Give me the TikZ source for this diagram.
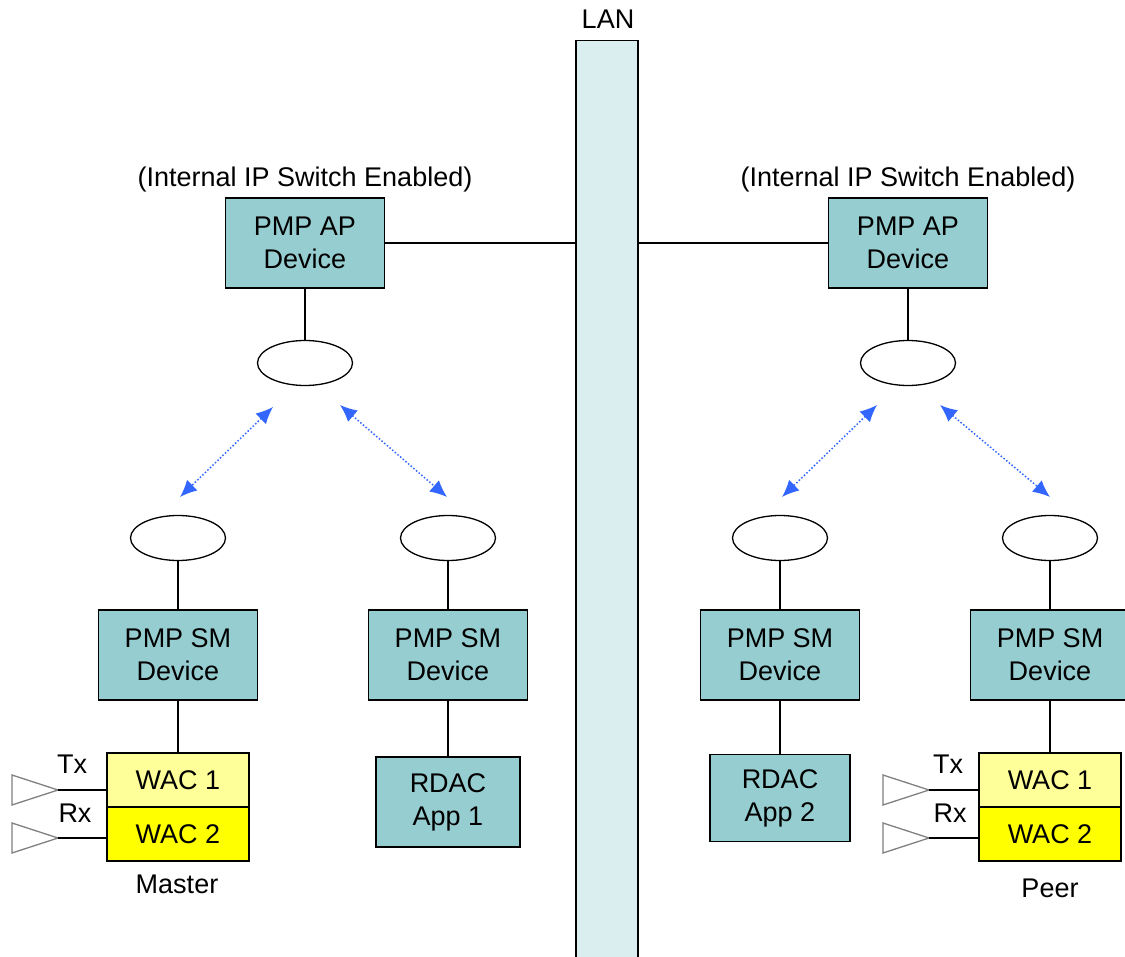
\documentclass[tikz,border=0pt]{standalone}
\usepackage{fontspec}
\setmainfont{Liberation Sans}
\usetikzlibrary{arrows.meta,shapes.geometric}
\definecolor{devteal}{HTML}{96CDD0}
\definecolor{lanblue}{HTML}{DAEEF0}
\definecolor{waclight}{HTML}{FFFF99}
\definecolor{wacyellow}{HTML}{FFFF00}
\definecolor{linkblue}{HTML}{3366FF}
\definecolor{antgray}{HTML}{808080}

\begin{document}
\begin{tikzpicture}
[x=1pt,y=-1pt,
%%%%%%%%%%%%%%%%%%%%%%%%%%%%%%
every node/.style={font=\fontsize{27}{33}\selectfont},
device/.style={rectangle,draw=black,line width=1.3pt,fill=devteal,align=center,
  minimum width=159pt,minimum height=90pt,inner sep=0pt},
rdac/.style={device,minimum width=144pt,minimum height=90pt},
wac/.style={rectangle,draw=black,line width=1.3pt,minimum width=142pt,
  minimum height=54pt,inner sep=0pt},
radio/.style={ellipse,draw=black,line width=1.3pt,fill=white,
  minimum width=95pt,minimum height=45pt,inner sep=0pt},
link/.style={draw=linkblue,line width=1.5pt,dotted,
  {Latex[length=17pt,width=15pt]}-{Latex[length=17pt,width=15pt]}},
wire/.style={draw=black,line width=1.3pt},
antenna/.style={draw=antgray,line width=1.3pt},
]%%%%%%%%%%%%%%%%%%%%%%%%%%%%%%
\useasboundingbox (0,0) rectangle (1125,957);

% LAN backbone
\node[rectangle,draw=black,line width=1.3pt,fill=lanblue,minimum width=62pt,
  minimum height=930pt,inner sep=0pt,anchor=north] (lan) at (607,40){};
\node (lanlabel) at (608,19){LAN};

% access points
\node[device] (apL) at (305,243){PMP AP\\Device};
\node[device] (apR) at (908,243){PMP AP\\Device};
\node (swL) at (305,180){(Internal IP Switch Enabled)};
\node (swR) at (908,180){(Internal IP Switch Enabled)};
\draw[wire] (apL.east) -- (apL.east -| lan.west);
\draw[wire] (apR.west) -- (apR.west -| lan.east);

\node[radio] (radL) at (305,363){};
\node[radio] (radR) at (908,363){};
\draw[wire] (apL.south) -- (radL.north);
\draw[wire] (apR.south) -- (radR.north);

% subscriber modules
\node[radio] (radL1) at (178,538){};
\node[radio] (radL2) at (448,538){};
\node[radio] (radR1) at (780,538){};
\node[radio] (radR2) at (1050,538){};

\node[device] (smL1) at (178,655){PMP SM\\Device};
\node[device] (smL2) at (448,655){PMP SM\\Device};
\node[device] (smR1) at (780,655){PMP SM\\Device};
\node[device] (smR2) at (1050,655){PMP SM\\Device};

\foreach \r/\s in {radL1/smL1,radL2/smL2,radR1/smR1,radR2/smR2}
  \draw[wire] (\r.south) -- (\s.north);

% wireless links
\coordinate (lkA1) at (273,407); \coordinate (lkA2) at (180,497);
\coordinate (lkB1) at (340,405); \coordinate (lkB2) at (447,497);
\coordinate (lkC1) at (877,405); \coordinate (lkC2) at (782,497);
\coordinate (lkD1) at (940,405); \coordinate (lkD2) at (1050,497);
\foreach \a in {A,B,C,D}
  \draw[link] (lk\a1) -- (lk\a2);

% applications
\node[rdac] (rdac1) at (448,802){RDAC\\App 1};
\node[rdac,minimum width=140pt,minimum height=87pt] (rdac2) at (780,798){RDAC\\App 2};
\draw[wire] (smL2.south) -- (rdac1.north);
\draw[wire] (smR1.south) -- (rdac2.north);

% WAC cards
\node[wac,fill=waclight] (wacL1) at (178,780){WAC 1};
\node[wac,fill=wacyellow] (wacL2) at (178,834){WAC 2};
\node[wac,fill=waclight] (wacR1) at (1050,780){WAC 1};
\node[wac,fill=wacyellow] (wacR2) at (1050,834){WAC 2};
\draw[wire] (smL1.south) -- (wacL1.north);
\draw[wire] (smR2.south) -- (wacR1.north);

\node (master) at (177,884){Master};
\node (peer) at (1050,888){Peer};

% antennas
\foreach \n/\x/\y in {txL/12/775,rxL/12/823,txR/883/775,rxR/883/823}{
  \draw[antenna] (\x,\y) -- ++(46,15) -- ++(-46,15) -- cycle;
  \coordinate (\n) at ({\x+46},{\y+15});
}
\draw[wire] (txL) -- (txL -| wacL1.west);
\draw[wire] (rxL) -- (rxL -| wacL2.west);
\draw[wire] (txR) -- (txR -| wacR1.west);
\draw[wire] (rxR) -- (rxR -| wacR2.west);
\node (txLlabel) at (72,764){Tx};
\node (rxLlabel) at (75,813){Rx};
\node (txRlabel) at (948,764){Tx};
\node (rxRlabel) at (950,813){Rx};
\end{tikzpicture}
\end{document}
